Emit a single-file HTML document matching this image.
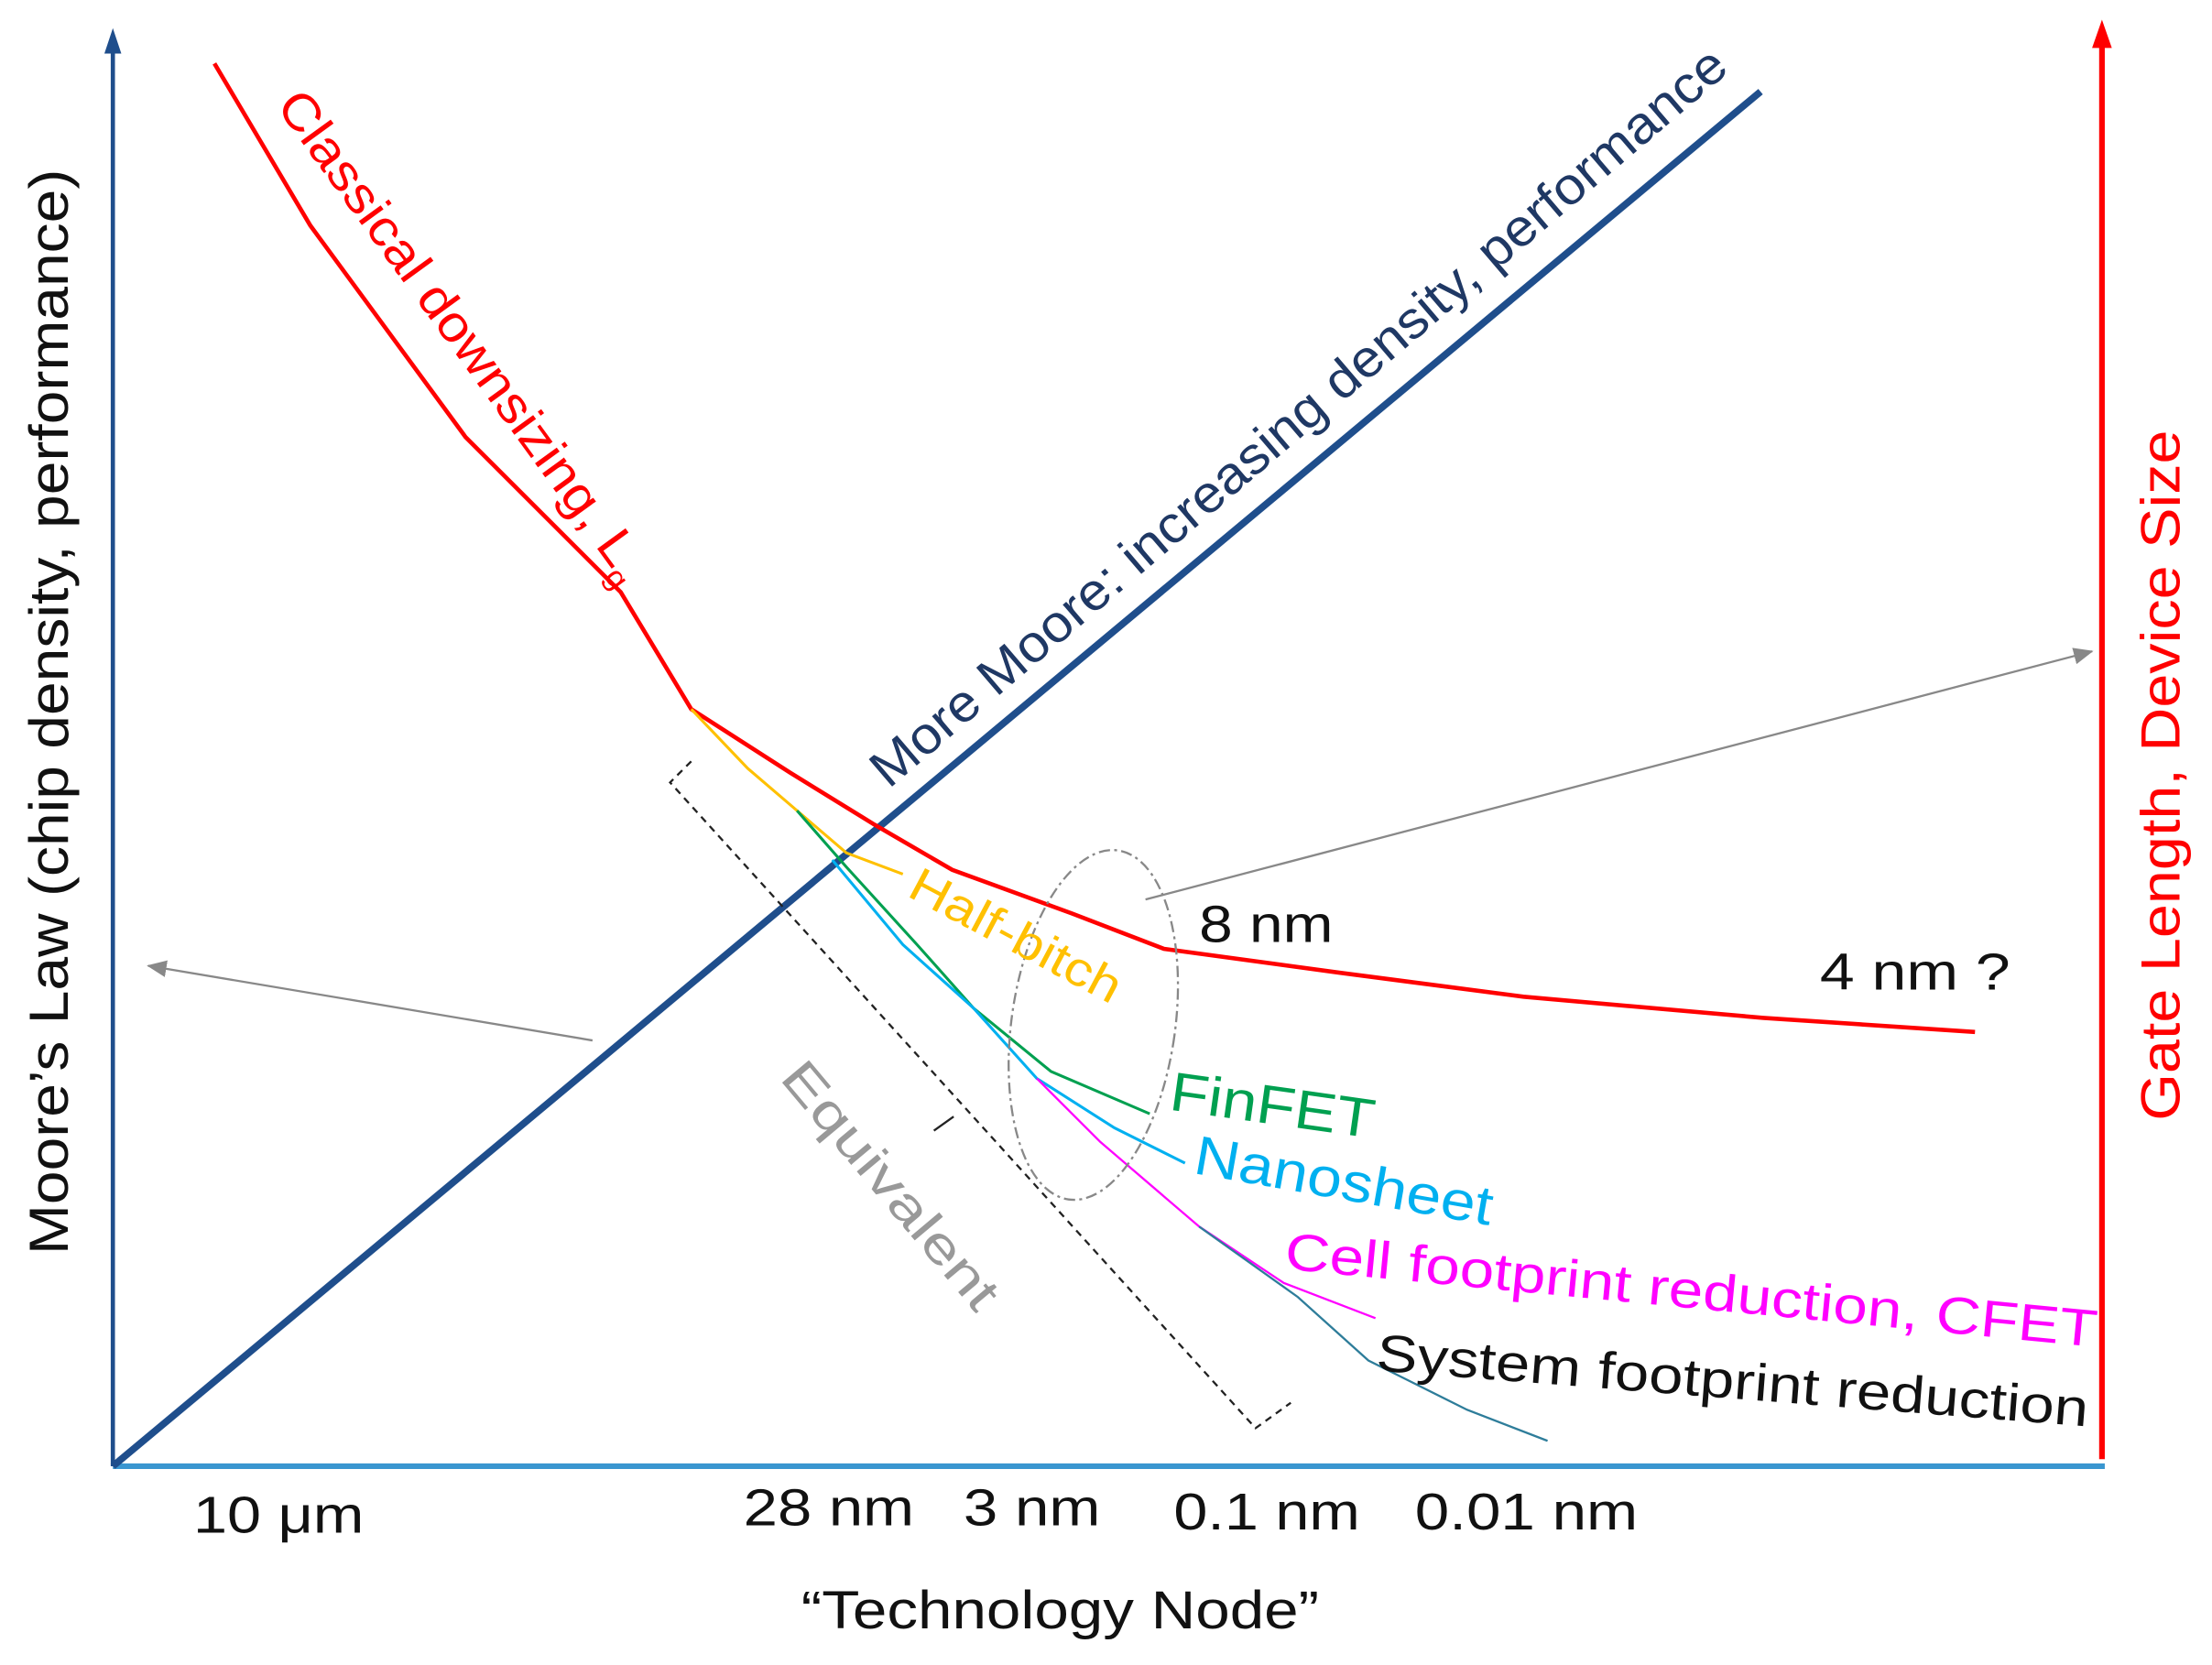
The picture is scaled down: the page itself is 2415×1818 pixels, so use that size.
<!DOCTYPE html>
<html><head><meta charset="utf-8"><style>
html,body{margin:0;padding:0;background:#fff;}
svg{display:block;}
text{font-family:"Liberation Sans",Arial,sans-serif;}
</style></head><body>
<svg width="2415" height="1818" viewBox="0 0 1568 1181" preserveAspectRatio="none" xmlns="http://www.w3.org/2000/svg">
<defs>
<marker id="ag" markerWidth="14" markerHeight="12" refX="13" refY="6" orient="auto" markerUnits="userSpaceOnUse"><path d="M0,0 L14,6 L0,12 Z" fill="#888"/></marker>
</defs>
<line x1="80" y1="1040" x2="80" y2="34" stroke="#1f4e8c" stroke-width="3"/>
<path d="M74,38 L80,20 L86,38 Z" fill="#1f4e8c"/>
<line x1="80" y1="1040" x2="1492" y2="1040" stroke="#3a96d0" stroke-width="4"/>
<line x1="1490" y1="1035" x2="1490" y2="30" stroke="#ff0000" stroke-width="4"/>
<path d="M1483,34 L1490,14 L1497,34 Z" fill="#ff0000"/>
<line x1="80" y1="1040" x2="1248" y2="65" stroke="#1f4e8c" stroke-width="5"/>
<line x1="420" y1="738" x2="105" y2="685" stroke="#888" stroke-width="1.5" marker-end="url(#ag)"/>
<line x1="812" y1="638" x2="1483" y2="462" stroke="#888" stroke-width="1.5" marker-end="url(#ag)"/>
<polyline fill="none" stroke="#ff0000" stroke-width="3" points="152,45 220,160 330,310 440,420 490,503 560,548 620,585 675,617 760,648 825,673 950,690 1080,707 1250,722 1400,732"/>
<polyline fill="none" stroke="#ffc000" stroke-width="2" points="490,503 530,545 565,575 600,605 640,620"/>
<polyline fill="none" stroke="#00a050" stroke-width="2" points="565,575 600,615 650,670 690,715 745,760 815,790"/>
<polyline fill="none" stroke="#00b0f0" stroke-width="2" points="590,610 640,670 690,715 735,765 790,800 840,825"/>
<polyline fill="none" stroke="#ff00ff" stroke-width="1.5" points="735,765 780,810 850,870 910,910 975,935"/>
<polyline fill="none" stroke="#2e7d9a" stroke-width="1.5" points="850,870 920,920 970,965 1040,1000 1097,1022"/>
<polyline fill="none" stroke="#222" stroke-width="1.5" stroke-dasharray="5,4" points="490,540 475,555 890,1013 915,995"/>
<line x1="662" y1="802" x2="676" y2="792" stroke="#222" stroke-width="1.5"/>
<ellipse cx="775" cy="727" rx="58" ry="125" transform="rotate(8 775 727)" fill="none" stroke="#888" stroke-width="1.5" stroke-dasharray="8,3,2,3"/>
<text x="195" y="75" font-size="36" fill="#ff0000" transform="rotate(54 195 75)" textLength="420" lengthAdjust="spacingAndGlyphs">Classical downsizing,  L<tspan font-size="21" dy="8">g</tspan></text>
<text x="630" y="560" font-size="37" fill="#1f3864" transform="rotate(-40.5 630 560)" textLength="785" lengthAdjust="spacingAndGlyphs">More Moore: increasing density, performance</text>
<text x="642" y="635" font-size="34" fill="#ffc000" transform="rotate(28 642 635)" textLength="165" lengthAdjust="spacingAndGlyphs">Half-bitch</text>
<text x="850" y="668" font-size="37" fill="#111" textLength="95" lengthAdjust="spacingAndGlyphs">8 nm</text>
<text x="1290" y="702" font-size="37" fill="#111" textLength="135" lengthAdjust="spacingAndGlyphs">4 nm ?</text>
<text x="828" y="787" font-size="39" fill="#00a050" transform="rotate(8 828 787)" textLength="146" lengthAdjust="spacingAndGlyphs">FinFET</text>
<text x="845" y="832" font-size="39" fill="#00b0f0" transform="rotate(10 845 832)" textLength="214" lengthAdjust="spacingAndGlyphs">Nanosheet</text>
<text x="910" y="900" font-size="37" fill="#ff00ff" transform="rotate(5.5 910 900)" textLength="578" lengthAdjust="spacingAndGlyphs">Cell footprint reduction, CFET</text>
<text x="975" y="972" font-size="37" fill="#111" transform="rotate(4.5 975 972)" textLength="506" lengthAdjust="spacingAndGlyphs">System footprint reduction</text>
<text x="552" y="765" font-size="36" fill="#999" transform="rotate(50 552 765)" textLength="218" lengthAdjust="spacingAndGlyphs">Equivalent</text>
<text x="48" y="505" font-size="39" fill="#111" text-anchor="middle" transform="rotate(-90 48 505)" textLength="770" lengthAdjust="spacingAndGlyphs">Moore’s Law (chip density, performance)</text>
<text x="1545" y="550" font-size="39" fill="#ff0000" text-anchor="middle" transform="rotate(-90 1545 550)" textLength="490" lengthAdjust="spacingAndGlyphs">Gate Length, Device Size</text>
<text x="137" y="1087" font-size="37" fill="#111" textLength="121" lengthAdjust="spacingAndGlyphs">10 μm</text>
<text x="527" y="1082" font-size="37" fill="#111" textLength="121" lengthAdjust="spacingAndGlyphs">28 nm</text>
<text x="683" y="1082" font-size="37" fill="#111" textLength="97" lengthAdjust="spacingAndGlyphs">3 nm</text>
<text x="832" y="1085" font-size="37" fill="#111" textLength="132" lengthAdjust="spacingAndGlyphs">0.1 nm</text>
<text x="1003" y="1085" font-size="37" fill="#111" textLength="158" lengthAdjust="spacingAndGlyphs">0.01 nm</text>
<text x="568" y="1155" font-size="38" fill="#111" textLength="367" lengthAdjust="spacingAndGlyphs">“Technology Node”</text>
</svg>
</body></html>
